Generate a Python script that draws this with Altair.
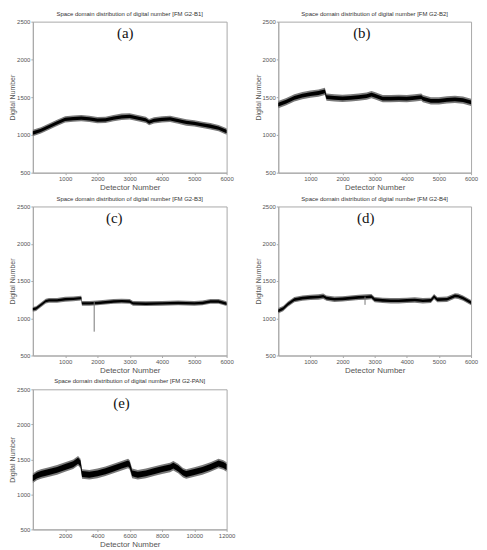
import altair as alt
import pandas as pd

# ---- data (band centre lines) ----
A_X = [0, 250, 500, 750, 1000, 1250, 1500, 1750, 2000, 2250, 2500, 2750, 3000, 3250, 3500, 3600, 3750, 4000, 4250, 4500, 4750, 5000, 5250, 5500, 5750, 6000]
A_Y = [1025, 1060, 1110, 1160, 1205, 1215, 1222, 1212, 1195, 1200, 1222, 1240, 1245, 1222, 1200, 1170, 1192, 1205, 1212, 1190, 1165, 1152, 1132, 1115, 1090, 1045]

B_X = [0, 250, 500, 750, 1000, 1250, 1450, 1500, 1750, 2000, 2250, 2500, 2750, 2900, 3000, 3250, 3500, 3750, 4000, 4250, 4450, 4500, 4750, 5000, 5250, 5500, 5750, 6000]
B_Y = [1400, 1440, 1490, 1520, 1540, 1555, 1578, 1500, 1490, 1485, 1490, 1500, 1515, 1535, 1520, 1480, 1480, 1485, 1480, 1490, 1500, 1480, 1450, 1450, 1465, 1470, 1460, 1430]

C_X = [0, 100, 250, 400, 500, 750, 1000, 1250, 1500, 1520, 1750, 2000, 2250, 2500, 2750, 3000, 3100, 3500, 4000, 4500, 5000, 5250, 5500, 5750, 6000]
C_Y = [1120, 1130, 1180, 1230, 1240, 1240, 1255, 1260, 1270, 1200, 1200, 1205, 1215, 1225, 1230, 1225, 1200, 1195, 1200, 1205, 1200, 1205, 1225, 1225, 1195]

D_X = [0, 150, 300, 500, 750, 1000, 1250, 1400, 1500, 1750, 2000, 2250, 2500, 2750, 2900, 3000, 3250, 3500, 3750, 4000, 4250, 4500, 4750, 4850, 4950, 5250, 5500, 5600, 5750, 6000]
D_Y = [1100, 1130, 1190, 1250, 1270, 1280, 1285, 1295, 1270, 1255, 1260, 1270, 1280, 1285, 1290, 1250, 1240, 1235, 1235, 1240, 1245, 1235, 1240, 1290, 1250, 1255, 1300, 1295, 1270, 1210]

E_X = [0, 250, 500, 1000, 1500, 2000, 2500, 2800, 2950, 3050, 3500, 4000, 4500, 5000, 5500, 5900, 6000, 6150, 6500, 7000, 7500, 8000, 8500, 8700, 9000, 9300, 9500, 10000, 10500, 11000, 11500, 11800, 12000]
E_Y = [1230, 1270, 1290, 1320, 1350, 1390, 1430, 1480, 1440, 1290, 1280, 1300, 1330, 1370, 1410, 1440, 1420, 1300, 1280, 1300, 1330, 1360, 1385, 1410, 1370, 1310, 1290, 1320, 1350, 1390, 1440, 1420, 1390]

# band half-widths (inner dark core, outer grey fringe)
A_HW = [22, 42]
B_HW = [25, 48]
C_HW = [16, 32]
D_HW = [18, 36]
E_HW = [42, 68]

# isolated spikes: detector, low, high
C_SPIKE = [1900, 820, 1220]
D_SPIKE = [2700, 1180, 1290]

TITLES = ["Space domain distribution of digital number [FM G2-B1]",
          "Space domain distribution of digital number [FM G2-B2]",
          "Space domain distribution of digital number [FM G2-B3]",
          "Space domain distribution of digital number [FM G2-B4]",
          "Space domain distribution of digital number [FM G2-PAN]"]
LETTERS = ["(a)", "(b)", "(c)", "(d)", "(e)"]
LETTER_X = [2860, 2600, 2520, 2720, 5490]
LETTER_Y = [2350, 2350, 2340, 2340, 2310]
X_TICKS_6K = [1000, 2000, 3000, 4000, 5000, 6000]
X_TICKS_12K = [2000, 4000, 6000, 8000, 10000, 12000]
Y_TICKS = [500, 1000, 1500, 2000, 2500]

AXIS_GREY = "#a8a8a8"
TEXT_GREY = "#555555"


def panel(xs, ys, hw, xmax, xticks, title, letter, lx, ly, w, h, spike=None):
    df = pd.DataFrame({"x": xs, "y": ys})
    df["ilo"] = df["y"] - hw[0]
    df["ihi"] = df["y"] + hw[0]
    df["olo"] = df["y"] - hw[1]
    df["ohi"] = df["y"] + hw[1]
    xscale = alt.Scale(domain=[0, xmax], nice=False, zero=False)
    yscale = alt.Scale(domain=[500, 2500], nice=False, zero=False)
    xaxis = alt.Axis(values=xticks, title="Detector Number", format="d",
                     labelOverlap=False, labelFlush=False)
    yaxis = alt.Axis(values=Y_TICKS, title="Digital Number", format="d",
                     labelOverlap=False, labelFlush=False)

    def X(f):
        return alt.X(f, scale=xscale, axis=xaxis)

    def Y(f):
        return alt.Y(f, scale=yscale, axis=yaxis)

    base = alt.Chart(df)
    outer = base.mark_area(color="#7a7a7a").encode(x=X("x:Q"), y=Y("olo:Q"), y2="ohi:Q")
    inner = base.mark_area(color="#000000").encode(x=X("x:Q"), y=Y("ilo:Q"), y2="ihi:Q")
    layers = [outer, inner]
    if spike is not None:
        sdf = pd.DataFrame({"x": [spike[0]], "lo": [spike[1]], "hi": [spike[2]]})
        layers.append(alt.Chart(sdf).mark_rule(color="#777777", strokeWidth=1).encode(
            x=X("x:Q"), y=Y("lo:Q"), y2="hi:Q"))
    tdf = pd.DataFrame({"x": [lx], "y": [ly], "t": [letter]})
    layers.append(alt.Chart(tdf).mark_text(font="Liberation Serif", fontSize=15, color="#111111").encode(
        x=X("x:Q"), y=Y("y:Q"), text="t:N"))
    return alt.layer(*layers).properties(
        width=w, height=h,
        title=alt.TitleParams(title, fontSize=6, font="Liberation Sans", fontWeight="normal",
                              color="#333333", offset=2))


pa = panel(A_X, A_Y, A_HW, 6000, X_TICKS_6K, TITLES[0], LETTERS[0], LETTER_X[0], LETTER_Y[0], 195, 152)
pb = panel(B_X, B_Y, B_HW, 6000, X_TICKS_6K, TITLES[1], LETTERS[1], LETTER_X[1], LETTER_Y[1], 194, 152)
pc = panel(C_X, C_Y, C_HW, 6000, X_TICKS_6K, TITLES[2], LETTERS[2], LETTER_X[2], LETTER_Y[2], 195, 150, C_SPIKE)
pd_ = panel(D_X, D_Y, D_HW, 6000, X_TICKS_6K, TITLES[3], LETTERS[3], LETTER_X[3], LETTER_Y[3], 194, 150, D_SPIKE)
pe = panel(E_X, E_Y, E_HW, 12000, X_TICKS_12K, TITLES[4], LETTERS[4], LETTER_X[4], LETTER_Y[4], 195, 141)

chart = alt.concat(pa, pb, pc, pd_, pe, columns=2, spacing={"row": 2, "column": 18}).configure_view(
    stroke=AXIS_GREY, strokeWidth=1
).configure_axis(
    grid=False, domainColor=AXIS_GREY, tickColor=AXIS_GREY, tickSize=2,
    labelFont="Liberation Sans", labelFontSize=6, labelColor=TEXT_GREY, labelPadding=1,
    labelOverlap=False,
    titleFont="Liberation Sans", titleFontWeight="normal", titleColor=TEXT_GREY
).configure_axisX(
    titleFontSize=8, titlePadding=2
).configure_axisY(
    titleFontSize=7, titlePadding=1
).properties(padding=0)

chart.save("out.html", embed_options={"renderer": "svg", "actions": False})
